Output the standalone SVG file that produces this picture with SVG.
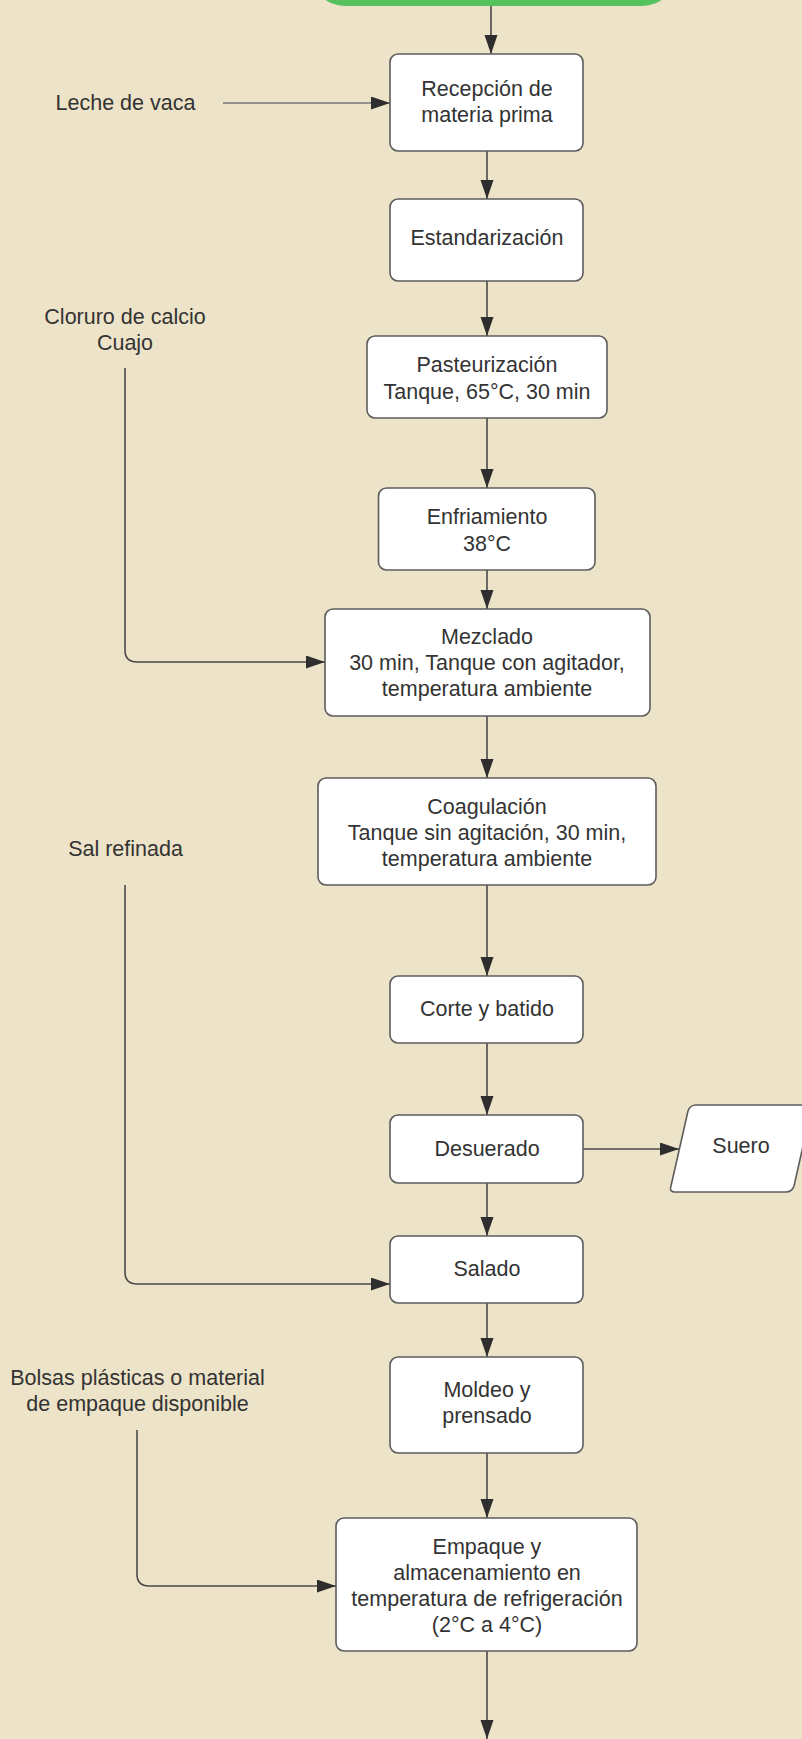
<svg xmlns="http://www.w3.org/2000/svg" width="802" height="1739" viewBox="0 0 802 1739">
<style>
.bg{fill:#EDE3C8}
.box{fill:#ffffff;stroke:#5c5c5c;stroke-width:1.6}
.t{font-family:"Liberation Sans",Arial,sans-serif;font-size:21.5px;fill:#333333;text-anchor:middle}
.c{fill:none;stroke:#4a4a4a;stroke-width:1.6}
.cl{fill:none;stroke:#777777;stroke-width:1.4}
</style>
<defs>
<marker id="ah" markerUnits="userSpaceOnUse" markerWidth="20" markerHeight="14" refX="19" refY="6.5" orient="auto">
<path d="M0,0 L19,6.5 L0,13 z" fill="#2e2e2e"/>
</marker>
</defs>
<rect class="bg" x="0" y="0" width="802" height="1739"/>

<g id="inicio">
<rect x="310" y="-70" width="367" height="76" rx="35" fill="#56C25E"/>
</g>

<g id="connectors">
<path class="c" d="M491,6 V54" marker-end="url(#ah)"/>
<path class="cl" d="M223,103 H390" marker-end="url(#ah)"/>
<path class="c" d="M487,151 V199" marker-end="url(#ah)"/>
<path class="c" d="M487,281 V336" marker-end="url(#ah)"/>
<path class="c" d="M487,418 V488" marker-end="url(#ah)"/>
<path class="c" d="M487,570 V609" marker-end="url(#ah)"/>
<path class="c" d="M125,368 V650 Q125,662 137,662 H325" marker-end="url(#ah)"/>
<path class="c" d="M487,716 V778" marker-end="url(#ah)"/>
<path class="c" d="M487,885 V976" marker-end="url(#ah)"/>
<path class="c" d="M487,1043 V1115" marker-end="url(#ah)"/>
<path class="c" d="M583,1149 H679" marker-end="url(#ah)"/>
<path class="c" d="M487,1183 V1236" marker-end="url(#ah)"/>
<path class="c" d="M125,885 V1272 Q125,1284 137,1284 H390" marker-end="url(#ah)"/>
<path class="c" d="M487,1303 V1357" marker-end="url(#ah)"/>
<path class="c" d="M137,1430 V1574 Q137,1586 149,1586 H336" marker-end="url(#ah)"/>
<path class="c" d="M487,1453 V1518" marker-end="url(#ah)"/>
<path class="c" d="M487,1651 V1739" marker-end="url(#ah)"/>
</g>

<g id="leche">
<text class="t" x="125.5" y="110">Leche de vaca</text>
</g>
<g id="cloruro">
<text class="t" x="125" y="324">Cloruro de calcio</text>
<text class="t" x="125" y="350">Cuajo</text>
</g>
<g id="sal">
<text class="t" x="125.5" y="855.5">Sal refinada</text>
</g>
<g id="bolsas">
<text class="t" x="137.5" y="1385">Bolsas plásticas o material</text>
<text class="t" x="137.5" y="1410.5">de empaque disponible</text>
</g>

<g id="recepcion">
<rect class="box" x="390" y="54" width="193" height="97" rx="8"/>
<text class="t" x="487" y="96">Recepción de</text>
<text class="t" x="487" y="122">materia prima</text>
</g>
<g id="estandarizacion">
<rect class="box" x="390" y="199" width="193" height="82" rx="8"/>
<text class="t" x="487" y="245">Estandarización</text>
</g>
<g id="pasteurizacion">
<rect class="box" x="367" y="336" width="240" height="82" rx="8"/>
<text class="t" x="487" y="372">Pasteurización</text>
<text class="t" x="487" y="398.5">Tanque, 65°C, 30 min</text>
</g>
<g id="enfriamiento">
<rect class="box" x="378.5" y="488" width="216.5" height="82" rx="8"/>
<text class="t" x="487" y="524">Enfriamiento</text>
<text class="t" x="487" y="550.5">38°C</text>
</g>
<g id="mezclado">
<rect class="box" x="325" y="609" width="325" height="107" rx="8"/>
<text class="t" x="487" y="644">Mezclado</text>
<text class="t" x="487" y="670">30 min, Tanque con agitador,</text>
<text class="t" x="487" y="696">temperatura ambiente</text>
</g>
<g id="coagulacion">
<rect class="box" x="318" y="778" width="338" height="107" rx="8"/>
<text class="t" x="487" y="813.5">Coagulación</text>
<text class="t" x="487" y="839.5">Tanque sin agitación, 30 min,</text>
<text class="t" x="487" y="865.5">temperatura ambiente</text>
</g>
<g id="corte">
<rect class="box" x="390" y="976" width="193" height="67" rx="8"/>
<text class="t" x="487" y="1015.5">Corte y batido</text>
</g>
<g id="desuerado">
<rect class="box" x="390" y="1115" width="193" height="68" rx="8"/>
<text class="t" x="487" y="1155.5">Desuerado</text>
</g>
<g id="suero">
<path class="box" d="M696,1105 H807 Q813,1105 811,1111 L794,1186 Q792,1192 786,1192 H675 Q669,1192 671,1186 L688,1111 Q690,1105 696,1105 Z"/>
<text class="t" x="741" y="1152.5">Suero</text>
</g>
<g id="salado">
<rect class="box" x="390" y="1236" width="193" height="67" rx="8"/>
<text class="t" x="487" y="1275.5">Salado</text>
</g>
<g id="moldeo">
<rect class="box" x="390" y="1357" width="193" height="96" rx="8"/>
<text class="t" x="487" y="1397">Moldeo y</text>
<text class="t" x="487" y="1423">prensado</text>
</g>
<g id="empaque">
<rect class="box" x="336" y="1518" width="301" height="133" rx="8"/>
<text class="t" x="487" y="1553.5">Empaque y</text>
<text class="t" x="487" y="1579.5">almacenamiento en</text>
<text class="t" x="487" y="1605.5">temperatura de refrigeración</text>
<text class="t" x="487" y="1631.5">(2°C a 4°C)</text>
</g>
</svg>
